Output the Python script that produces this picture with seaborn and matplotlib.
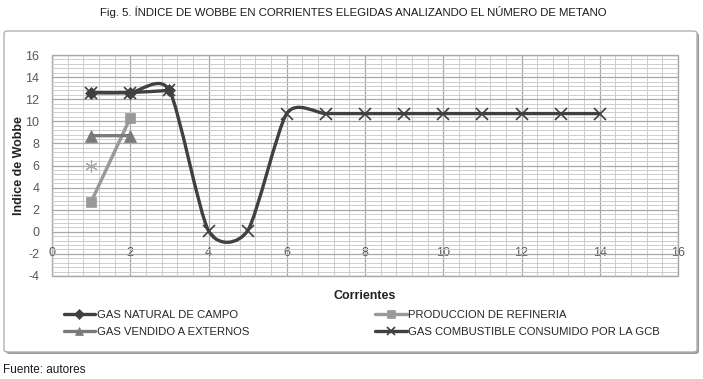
import numpy as np
import matplotlib
matplotlib.use("Agg")
import matplotlib.pyplot as plt
import seaborn as sns
from matplotlib.path import Path
from matplotlib.patches import PathPatch, FancyBboxPatch
from matplotlib.lines import Line2D
from matplotlib.ticker import MultipleLocator

# valores
natural_x = [1, 2, 3]
natural_y = [12.6, 12.6, 12.8]
refineria_x = [1, 2]
refineria_y = [2.7, 10.3]
vendido_x = [1, 2]
vendido_y = [8.7, 8.7]
combustible_x = [1, 2, 3, 4, 5, 6, 7, 8, 9, 10, 11, 12, 13, 14]
combustible_y = [12.6, 12.6, 12.8, 0.1, 0.1, 10.7, 10.7, 10.7, 10.7, 10.7, 10.7, 10.7, 10.7, 10.7]
suelto_x = [1]
suelto_y = [6.0]

nombres = ["GAS NATURAL DE CAMPO", "PRODUCCION DE REFINERIA",
           "GAS VENDIDO A EXTERNOS", "GAS COMBUSTIBLE CONSUMIDO POR LA GCB"]
titulo = "Fig. 5. ÍNDICE DE WOBBE EN CORRIENTES ELEGIDAS ANALIZANDO EL NÚMERO DE METANO"

sns.set_style("white")
narrow = ["Liberation Sans", "DejaVu Sans"]
plt.rcParams["font.family"] = ["Liberation Sans", "DejaVu Sans"]
plt.rcParams["axes.unicode_minus"] = False

W, H = 703, 379
fig = plt.figure(figsize=(W / 100, H / 100), dpi=100)


def smooth(xs, ys, k=0.12):
    # curva suavizada tipo Excel (Bezier por tramos)
    p = np.column_stack([xs, ys]).astype(float)
    n = len(p)
    verts, codes = [p[0]], [Path.MOVETO]
    for i in range(n - 1):
        p0, p1, p2, p3 = p[max(i - 1, 0)], p[i], p[i + 1], p[min(i + 2, n - 1)]
        verts += [p1 + k * (p2 - p0), p2 - k * (p3 - p1), p2]
        codes += [Path.CURVE4] * 3
    return Path(verts, codes)


# marco del area del grafico
sombra = FancyBboxPatch((6 / W, 1 - 354 / H), 693 / W, 321 / H, boxstyle="round,pad=0,rounding_size=0.006",
                        transform=fig.transFigure, facecolor="#9a9a9a", edgecolor="none", zorder=-3)
marco = FancyBboxPatch((4 / W, 1 - 352 / H), 693 / W, 321 / H, boxstyle="round,pad=0,rounding_size=0.006",
                       transform=fig.transFigure, facecolor="white", edgecolor="#b0b0b0", lw=1.0, zorder=-2)
fig.add_artist(sombra)
fig.add_artist(marco)

ax = fig.add_axes([52 / W, 1 - 276 / H, 626 / W, 221 / H])
ax.set_xlim(0, 16)
ax.set_ylim(-4, 16)
ax.xaxis.set_major_locator(MultipleLocator(2))
ax.yaxis.set_major_locator(MultipleLocator(2))
ax.xaxis.set_minor_locator(MultipleLocator(0.4))
ax.yaxis.set_minor_locator(MultipleLocator(0.4))
ax.grid(which="major", color="#a8a8a8", lw=0.9)
ax.grid(which="minor", color="#cdcdcd", lw=0.7)
ax.set_axisbelow(True)
for s in ax.spines.values():
    s.set_visible(False)
ax.spines["bottom"].set_position(("data", 0))
ax.patch.set_edgecolor("#a8a8a8")
ax.patch.set_linewidth(1.0)
ax.tick_params(which="both", length=0)
ax.tick_params(axis="x", pad=11, labelsize=9, labelcolor="#595959")
ax.tick_params(axis="y", pad=9, labelsize=9, labelcolor="#595959")

series = [
    (natural_x, natural_y, "#404040", "D", 6.5, nombres[0]),
    (refineria_x, refineria_y, "#999999", "s", 7, nombres[1]),
    (vendido_x, vendido_y, "#7a7a7a", "^", 8, nombres[2]),
    (combustible_x, combustible_y, "#404040", "x", 8, nombres[3]),
]
for i, (xs, ys, c, m, ms, lab) in enumerate(series):
    ax.add_patch(PathPatch(smooth(xs, ys), fill=False, edgecolor=c, lw=2.4,
                           capstyle="round", joinstyle="round", zorder=2 + i))
    sns.lineplot(x=xs, y=ys, ax=ax, linestyle="none", marker=m, markersize=ms, color=c,
                 markeredgecolor=c, markeredgewidth=1.2 if m == "x" else 0.5,
                 legend=False, zorder=2.5 + i)

sns.lineplot(x=suelto_x, y=suelto_y, ax=ax, linestyle="none", marker=(6, 2, 0), markersize=9,
             color="#a8a8a8", markeredgecolor="#a8a8a8", markeredgewidth=0.8, legend=False)

ax.set_xlabel("")
ax.set_ylabel("")
fig.text(19 / W, 1 - 166 / H, "Indice de Wobbe", rotation=90, ha="center", va="center",
         fontsize=9, fontweight="bold", color="#222222")
fig.text(365 / W, 1 - 296 / H, "Corrientes", ha="center", va="center",
         fontsize=9, fontweight="bold", color="#222222")

handles = []
for xs, ys, c, m, ms, lab in [series[0], series[2], series[1], series[3]]:
    handles.append(Line2D([], [], color=c, lw=2.4, marker=m, markersize=ms * 0.75,
                          markeredgecolor=c, markeredgewidth=1.2 if m == "x" else 0.5, label=lab))
leg = fig.legend(handles=handles, ncol=2, loc="upper left", bbox_to_anchor=(58 / W, 1 - 304 / H),
                 frameon=False, borderpad=0, handlelength=2.8, handletextpad=0.15,
                 columnspacing=11.2, labelspacing=0.62, prop={"family": narrow, "size": 8.1})
for t in leg.get_texts():
    t.set_color("#262626")

fig.text(353 / W, 1 - 12 / H, titulo, ha="center", va="center", fontsize=8.2,
         family=narrow, color="#1a1a1a")
fig.text(3 / W, 1 - 370 / H, "Fuente: autores", ha="left", va="center", fontsize=8.5,
         family=narrow, color="#1a1a1a")

fig.savefig("out.png", dpi=100)
